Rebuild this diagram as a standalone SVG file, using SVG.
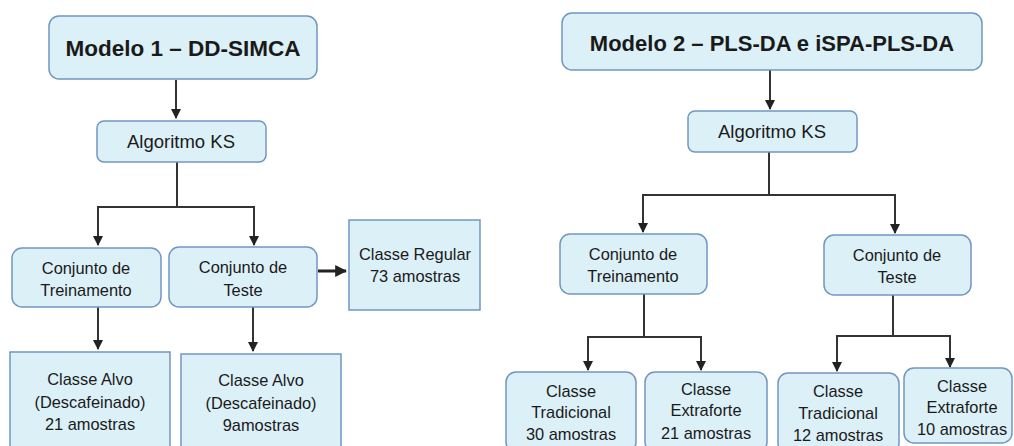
<svg xmlns="http://www.w3.org/2000/svg" width="1014" height="446" viewBox="0 0 1014 446">
<defs>
<style>
.box{fill:#dcf0f8;stroke:#7296c0;stroke-width:1.5}
.t{font-family:"Liberation Sans",Arial,sans-serif;fill:#1a1a1a;text-anchor:middle}
.title{font-weight:bold}
.ks{font-size:18.5px}
.b{font-size:16.4px}
.ln{fill:none;stroke:#333;stroke-width:2}
.ln2{fill:none;stroke:#222;stroke-width:3}
</style>
<marker id="ah" viewBox="0 0 10 10" refX="9" refY="5" markerWidth="5" markerHeight="5" orient="auto" markerUnits="strokeWidth"><path d="M0,0 L10,5 L0,10 z" fill="#222"/></marker>
<marker id="ah2" viewBox="0 0 10 10" refX="9" refY="5" markerWidth="4" markerHeight="4" orient="auto" markerUnits="strokeWidth"><path d="M0,0 L10,5 L0,10 z" fill="#222"/></marker>
</defs>
<rect width="1014" height="446" fill="#fff"/>

<g id="connectors">
<path class="ln" d="M176,80 V118" marker-end="url(#ah)"/>
<path class="ln" d="M177,162 V207 M98,207 H254"/>
<path class="ln" d="M98,206 V245" marker-end="url(#ah)"/>
<path class="ln" d="M254,206 V245" marker-end="url(#ah)"/>
<path class="ln2" d="M318,271 H346" marker-end="url(#ah2)"/>
<path class="ln" d="M98,307 V349" marker-end="url(#ah)"/>
<path class="ln" d="M253,307 V351" marker-end="url(#ah)"/>

<path class="ln" d="M770,70 V109" marker-end="url(#ah)"/>
<path class="ln" d="M769,152 V195 M643,195 H895"/>
<path class="ln" d="M643,194 V232" marker-end="url(#ah)"/>
<path class="ln" d="M895,194 V233" marker-end="url(#ah)"/>
<path class="ln" d="M644,294 V337 M588,337 H701"/>
<path class="ln" d="M588,336 V370" marker-end="url(#ah)"/>
<path class="ln" d="M701,336 V370" marker-end="url(#ah)"/>
<path class="ln" d="M893,295 V336 M837,336 H950"/>
<path class="ln" d="M837,335 V371" marker-end="url(#ah)"/>
<path class="ln" d="M950,335 V367" marker-end="url(#ah)"/>
</g>

<g id="m1">
<rect class="box" x="49" y="16" width="268" height="63" rx="10"/>
<text class="t title" x="183" y="56" font-size="22.5">Modelo 1 – DD-SIMCA</text>
</g>
<g id="ks1">
<rect class="box" x="97" y="121" width="169" height="41" rx="7"/>
<text class="t ks" x="181" y="148">Algoritmo KS</text>
</g>
<g id="treino1">
<rect class="box" x="12" y="248" width="149" height="59" rx="10"/>
<text class="t b" x="86" y="274">Conjunto de</text>
<text class="t b" x="86" y="296">Treinamento</text>
</g>
<g id="teste1">
<rect class="box" x="169" y="247" width="148" height="60" rx="10"/>
<text class="t b" x="243" y="273">Conjunto de</text>
<text class="t b" x="243" y="296">Teste</text>
</g>
<g id="regular">
<rect class="box" x="349" y="220" width="131" height="90"/>
<text class="t b" x="415" y="260">Classe Regular</text>
<text class="t b" x="415" y="282">73 amostras</text>
</g>
<g id="alvo1">
<rect class="box" x="10" y="352" width="160" height="100"/>
<text class="t b" x="90" y="385">Classe Alvo</text>
<text class="t b" x="90" y="408">(Descafeinado)</text>
<text class="t b" x="90" y="430">21 amostras</text>
</g>
<g id="alvo2">
<rect class="box" x="181" y="354" width="160" height="100"/>
<text class="t b" x="261" y="386">Classe Alvo</text>
<text class="t b" x="261" y="409">(Descafeinado)</text>
<text class="t b" x="261" y="431">9amostras</text>
</g>

<g id="m2">
<rect class="box" x="562" y="13" width="420" height="57" rx="10"/>
<text class="t title" x="772" y="51" font-size="22">Modelo 2 – PLS-DA e iSPA-PLS-DA</text>
</g>
<g id="ks2">
<rect class="box" x="688" y="111" width="169" height="41" rx="7"/>
<text class="t ks" x="772" y="138">Algoritmo KS</text>
</g>
<g id="treino2">
<rect class="box" x="560" y="234" width="147" height="60" rx="10"/>
<text class="t b" x="633" y="260">Conjunto de</text>
<text class="t b" x="633" y="282">Treinamento</text>
</g>
<g id="teste2">
<rect class="box" x="824" y="235" width="147" height="60" rx="10"/>
<text class="t b" x="897" y="261">Conjunto de</text>
<text class="t b" x="897" y="283">Teste</text>
</g>
<g id="trad30">
<rect class="box" x="506" y="372" width="130" height="80" rx="10"/>
<text class="t b" x="571" y="397">Classe</text>
<text class="t b" x="571" y="418">Tradicional</text>
<text class="t b" x="571" y="440">30 amostras</text>
</g>
<g id="extra21">
<rect class="box" x="645" y="372" width="122" height="80" rx="10"/>
<text class="t b" x="706" y="395">Classe</text>
<text class="t b" x="706" y="416">Extraforte</text>
<text class="t b" x="706" y="439">21 amostras</text>
</g>
<g id="trad12">
<rect class="box" x="778" y="373" width="121" height="80" rx="10"/>
<text class="t b" x="838" y="397">Classe</text>
<text class="t b" x="838" y="419">Tradicional</text>
<text class="t b" x="838" y="441">12 amostras</text>
</g>
<g id="extra10">
<rect class="box" x="904" y="368" width="108" height="75" rx="10"/>
<text class="t b" x="962" y="392">Classe</text>
<text class="t b" x="962" y="413">Extraforte</text>
<text class="t b" x="962" y="435">10 amostras</text>
</g>
</svg>
